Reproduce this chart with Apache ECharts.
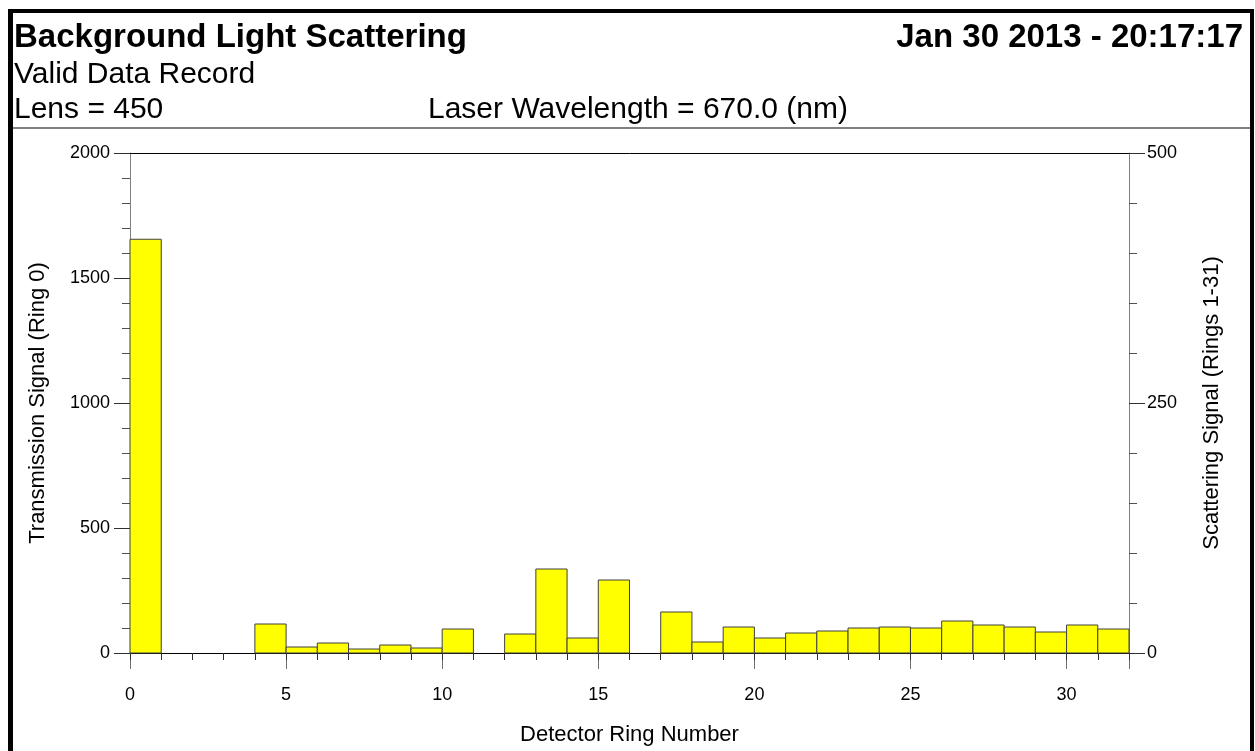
<!DOCTYPE html>
<html>
<head>
<meta charset="utf-8">
<script src="https://cdn.jsdelivr.net/npm/echarts@6/dist/echarts.min.js"></script>
<style>
html,body{margin:0;padding:0;background:#fff;}
#chart{width:1255px;height:751px;}
</style>
</head>
<body>
<div id="chart"></div>
<script>
// ---- data ----
const titleText = 'Background Light Scattering';
const dateText = 'Jan 30 2013 - 20:17:17';
const statusText = 'Valid Data Record';
const lensText = 'Lens = 450';
const laserText = 'Laser Wavelength = 670.0 (nm)';
const xAxisName = 'Detector Ring Number';
const leftAxisName = 'Transmission Signal (Ring 0)';
const rightAxisName = 'Scattering Signal (Rings 1-31)';

// ring 0 (left axis)
const transmissionRings = [0];
const transmissionValues = [1655];
// rings 1-31 (right axis)
const scatterRings = [1,2,3,4,5,6,7,8,9,10,11,12,13,14,15,16,17,18,19,20,21,22,23,24,25,26,27,28,29,30,31];
const scatterValues = [0,0,0,29,6,10,4,8,5,24,0,19,84,15,73,0,41,11,26,15,20,22,25,26,25,32,28,26,21,28,24];

const xMin = 0, xMax = 32;
const leftMax = 2000, rightMax = 500;

const font = '"Liberation Sans", Arial, sans-serif';

function pairs(xs, ys){ return xs.map((x,i)=>[x, ys[i]]); }

function renderBar(params, api){
  const x = api.value(0), v = api.value(1);
  if (!v) return null;
  const p0 = api.coord([x, 0]);
  const p1 = api.coord([x + 1, v]);
  return {
    type: 'rect',
    shape: {x: p0[0], y: p1[1], width: p1[0] - p0[0], height: p0[1] - p1[1]},
    style: {fill: '#ffff00', stroke: '#404040', lineWidth: 1}
  };
}

const plain = v => String(v);

const chart = echarts.init(document.getElementById('chart'), null, {renderer: 'canvas'});
chart.setOption({
  animation: false,
  backgroundColor: '#fff',
  textStyle: {fontFamily: font},
  grid: {left: 130, right: 126, top: 153, bottom: 98},
  xAxis: [
    {
      type: 'value', position: 'bottom', min: xMin, max: xMax, interval: 5,
      axisLine: {show: true, onZero: false, lineStyle: {color: '#000', width: 1}},
      axisTick: {show: true, length: 16, lineStyle: {color: '#707070'}},
      axisLabel: {fontSize: 18, color: '#000', margin: 33, fontFamily: font,
        formatter: v => (v % 5 === 0 ? String(v) : '')},
      splitLine: {show: false},
      name: xAxisName, nameLocation: 'middle', nameGap: 71,
      nameTextStyle: {fontSize: 22, color: '#000', fontFamily: font}
    },
    {
      type: 'value', position: 'bottom', min: xMin, max: xMax, interval: 1,
      axisLine: {show: false, onZero: false},
      axisTick: {show: true, length: 7, lineStyle: {color: '#303030'}},
      axisLabel: {show: false},
      splitLine: {show: false}
    },
    {
      type: 'value', position: 'top', min: xMin, max: xMax,
      axisLine: {show: true, onZero: false, lineStyle: {color: '#000', width: 1}},
      axisTick: {show: false}, axisLabel: {show: false}, splitLine: {show: false}
    }
  ],
  yAxis: [
    {
      type: 'value', position: 'left', min: 0, max: leftMax, interval: 500,
      axisLine: {show: true, onZero: false, lineStyle: {color: '#808080'}},
      axisTick: {show: true, length: 16, lineStyle: {color: '#303030'}},
      minorTick: {show: true, splitNumber: 5, length: 8, lineStyle: {color: '#505050'}},
      axisLabel: {fontSize: 18, color: '#000', margin: 20, fontFamily: font, formatter: plain},
      splitLine: {show: false}, minorSplitLine: {show: false},
      name: leftAxisName, nameLocation: 'middle', nameGap: 81,
      nameTextStyle: {fontSize: 22, color: '#000', fontFamily: font}
    },
    {
      type: 'value', position: 'right', min: 0, max: rightMax, interval: 250,
      axisLine: {show: true, onZero: false, lineStyle: {color: '#808080'}},
      axisTick: {show: true, length: 16, lineStyle: {color: '#303030'}},
      minorTick: {show: true, splitNumber: 5, length: 8, lineStyle: {color: '#505050'}},
      axisLabel: {fontSize: 18, color: '#000', margin: 18, fontFamily: font, formatter: plain},
      splitLine: {show: false}, minorSplitLine: {show: false},
      name: rightAxisName, nameLocation: 'middle', nameGap: 72,
      nameTextStyle: {fontSize: 22, color: '#000', fontFamily: font}
    }
  ],
  series: [
    {
      type: 'custom', name: 'Transmission', coordinateSystem: 'cartesian2d',
      xAxisIndex: 0, yAxisIndex: 0, renderItem: renderBar,
      data: pairs(transmissionRings, transmissionValues), z: 1
    },
    {
      type: 'custom', name: 'Scattering', coordinateSystem: 'cartesian2d',
      xAxisIndex: 0, yAxisIndex: 1, renderItem: renderBar,
      data: pairs(scatterRings, scatterValues), z: 1
    }
  ],
  graphic: [
    {type: 'rect', shape: {x: 8, y: 9, width: 5, height: 742}, style: {fill: '#000'}},
    {type: 'rect', shape: {x: 8, y: 9, width: 1246, height: 4}, style: {fill: '#000'}},
    {type: 'rect', shape: {x: 1250, y: 9, width: 4, height: 742}, style: {fill: '#000'}},
    {type: 'line', shape: {x1: 13, y1: 128, x2: 1250, y2: 128}, style: {stroke: '#808080', lineWidth: 2}},
    {type: 'text', x: 14, y: 38, style: {text: titleText, font: 'bold 33px ' + font, fill: '#000', align: 'left', verticalAlign: 'middle'}},
    {type: 'text', x: 1243, y: 38, style: {text: dateText, font: 'bold 33px ' + font, fill: '#000', align: 'right', verticalAlign: 'middle'}},
    {type: 'text', x: 14, y: 75, style: {text: statusText, font: '30px ' + font, fill: '#000', align: 'left', verticalAlign: 'middle'}},
    {type: 'text', x: 14, y: 110, style: {text: lensText, font: '30px ' + font, fill: '#000', align: 'left', verticalAlign: 'middle'}},
    {type: 'text', x: 428, y: 110, style: {text: laserText, font: '30px ' + font, fill: '#000', align: 'left', verticalAlign: 'middle'}}
  ]
});
</script>
</body>
</html>
